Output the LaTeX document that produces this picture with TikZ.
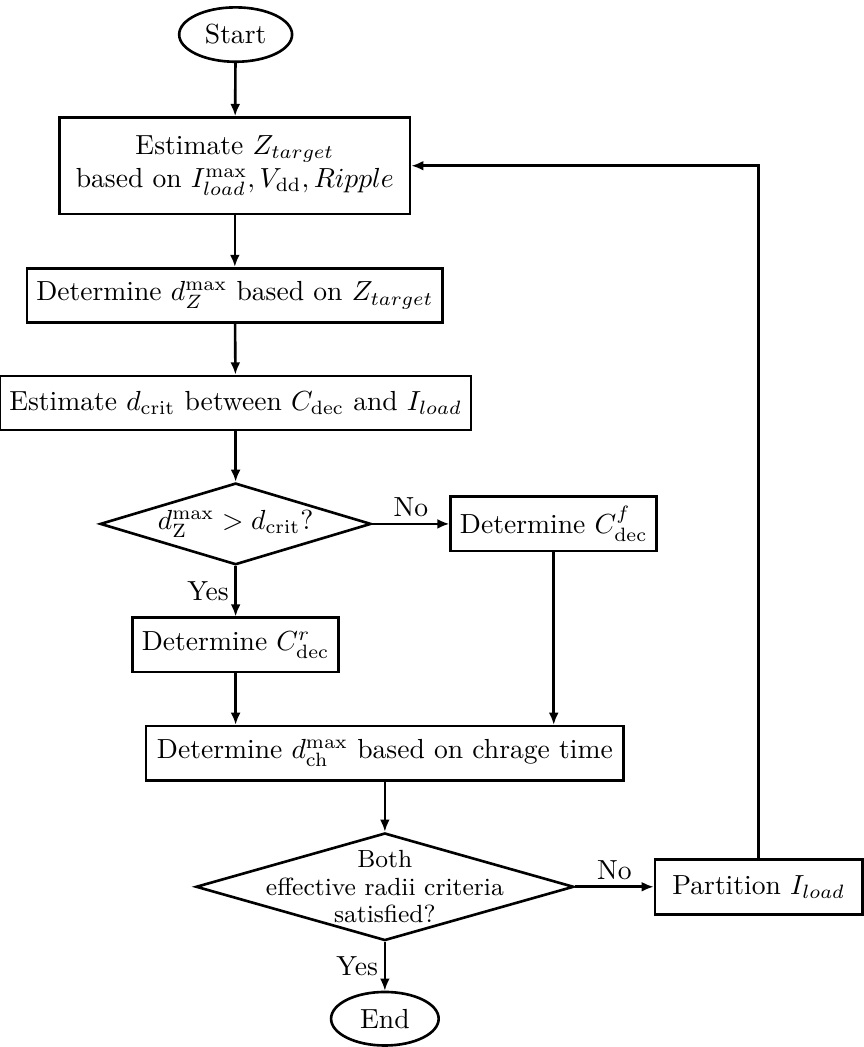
\documentclass[tikz,border=0pt]{standalone}
\usetikzlibrary{shapes.geometric, arrows.meta}

\begin{document}
\begin{tikzpicture}[>={Latex[length=4.4pt, width=3.6pt]}, line width=0.95pt,
    box/.style={draw, rectangle, minimum height=0.69cm, align=center},
    term/.style={draw, ellipse, minimum width=1.37cm, minimum height=0.68cm},
    decide/.style={draw, diamond, inner sep=0pt}]
    \useasboundingbox (0,0) rectangle (11.0,-13.33);

    % main column
    \node[term] (start) at (3.0,-0.44) {Start};
    \node[box, minimum width=4.46cm, minimum height=1.23cm] (est) at (2.99,-2.11)
        {Estimate $Z_{target}$\\ based on $I_{load}^{\max}, V_{\mathrm{dd}}, Ripple$};
    \node[box, minimum width=5.14cm] (dz) at (2.99,-3.76)
        {Determine $d_Z^{\max}$ based on $Z_{target}$};
    \node[box, minimum width=5.84cm] (crit) at (3.0,-5.13)
        {Estimate $d_{\mathrm{crit}}$ between $C_{\mathrm{dec}}$ and $I_{load}$};

    % first decision
    \node[decide, minimum width=3.45cm, minimum height=1.04cm,
        label={center:$d_{\mathrm{Z}}^{\max} > d_{\mathrm{crit}}$?}] (q1) at (3.0,-6.67) {};
    \node[box, minimum width=2.6cm] (cf) at (7.05,-6.67) {Determine $C_{\mathrm{dec}}^f$};
    \node[box, minimum width=2.58cm] (cr) at (3.0,-8.21) {Determine $C_{\mathrm{dec}}^r$};

    \node[box, minimum width=6.08cm] (ch) at (4.9,-9.59)
        {Determine $d_{\mathrm{ch}}^{\max}$ based on chrage time};

    % second decision
    \node[decide, minimum width=4.81cm, minimum height=1.37cm,
        label={[align=center, font=\small\linespread{0.9}\selectfont]center:Both\\ effective radii criteria\\ satisfied?}] (q2) at (4.9,-11.29) {};
    \node[box, minimum width=2.64cm, minimum height=0.70cm] (part) at (9.66,-11.29) {Partition $I_{load}$};
    \node[term] (end) at (4.9,-12.97) {End};

    % connectors
    \draw[->] (start) -- (est);
    \draw[->] (est) -- (dz);
    \draw[->] (dz) -- (crit);
    \draw[->] (crit) -- (q1);
    \draw[->] (q1) -- node[above, inner sep=2pt] {No} (cf);
    \draw[->] (q1) -- node[left, inner sep=2pt] {Yes} (cr);
    \draw[->] (cr) -- (cr |- ch.north);
    \draw[->] (cf) -- (cf |- ch.north);
    \draw[->] (ch) -- (q2);
    \draw[->] (q2) -- node[above, inner sep=2pt] {No} (part);
    \draw[->] (q2) -- node[left, inner sep=2pt] {Yes} (end);
    \draw[->] (part) |- (est);
\end{tikzpicture}
\end{document}
